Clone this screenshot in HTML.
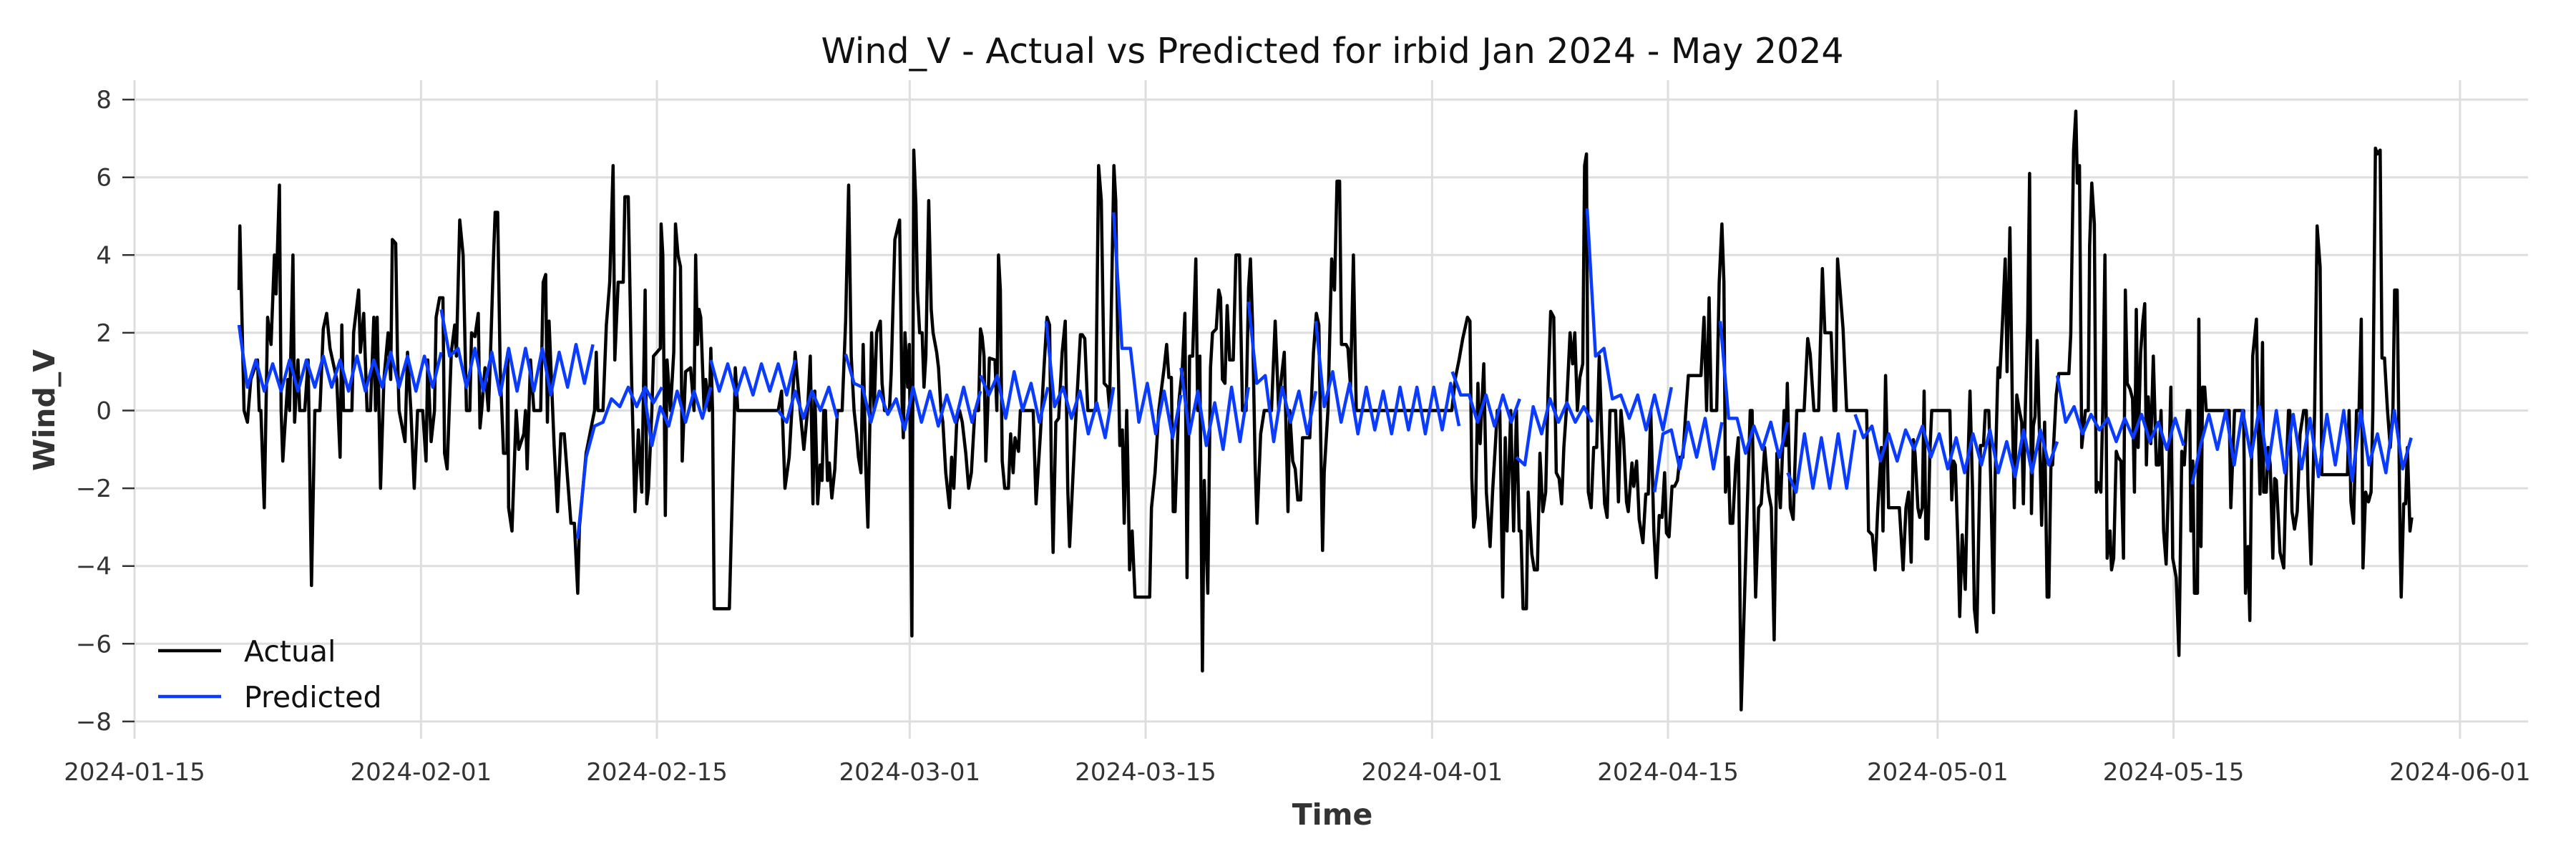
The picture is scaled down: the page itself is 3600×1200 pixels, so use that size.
<!DOCTYPE html>
<html><head><meta charset="utf-8"><style>
html,body{margin:0;padding:0;background:#fff;}
svg{display:block;}
text{font-family:"DejaVu Sans","Liberation Sans",sans-serif;}
</style></head><body>
<svg id="chart" width="3600" height="1200" viewBox="0 0 3600 1200" xmlns="http://www.w3.org/2000/svg">
<rect width="3600" height="1200" fill="#fff"/>
<text x="1862" y="88" font-size="49" text-anchor="middle" fill="#111">Wind_V - Actual vs Predicted for irbid Jan 2024 - May 2024</text>
<g id="grid"></g>
<g id="ticks"></g>
<g id="series"></g>
<text x="1862" y="1152" font-size="41" font-weight="bold" text-anchor="middle" fill="#333">Time</text>
<text transform="translate(76,573) rotate(-90)" font-size="41" font-weight="bold" text-anchor="middle" fill="#333">Wind_V</text>
<g>
<line x1="221" y1="909" x2="309" y2="909" stroke="#000" stroke-width="4.5"/>
<text x="341" y="924" font-size="41" fill="#111">Actual</text>
<line x1="221" y1="973" x2="309" y2="973" stroke="#0a3cff" stroke-width="4.5"/>
<text x="341" y="988" font-size="41" fill="#111">Predicted</text>
</g>
</svg>
<script>
// days since 2024-01-15
const xTickDays = [0, 17, 31, 46, 60, 77, 91, 107, 121, 138];
const xTickLabels = ["2024-01-15","2024-02-01","2024-02-15","2024-03-01","2024-03-15","2024-04-01","2024-04-15","2024-05-01","2024-05-15","2024-06-01"];
const yTicks = [-8,-6,-4,-2,0,2,4,6,8];
const yTickLabels = ["\u22128","\u22126","\u22124","\u22122","0","2","4","6","8"];

const actualDays = [
6.2,6.25,6.5,6.7,6.9,7.3,7.4,7.5,7.7,7.9,8.1,8.3,8.4,8.6,8.7,8.8,9.1,9.2,9.4,9.5,9.7,9.8,10.1,10.3,10.5,10.7,11.0,11.2,11.4,11.6,12.0,12.2,12.3,12.4,12.9,13.0,13.3,13.4,13.6,13.8,14.0,14.2,14.3,14.4,14.6,14.8,15.05,15.2,15.3,15.5,15.6,15.7,16.05,16.2,16.4,16.6,16.8,17.1,17.3,17.4,17.6,17.8,17.9,18.1,18.3,18.4,18.55,18.8,19.0,19.1,19.3,19.5,19.7,19.9,20.0,20.2,20.4,20.5,20.6,20.8,21.0,21.1,21.3,21.4,21.55,21.7,21.9,22.1,22.15,22.2,22.4,22.65,22.8,23.1,23.2,23.3,23.5,23.7,24.1,24.25,24.4,24.5,24.6,24.9,25.1,25.3,25.5,25.9,26.1,26.3,26.4,26.8,27.3,27.4,27.5,27.8,28.0,28.2,28.4,28.5,28.7,29.0,29.1,29.3,29.5,29.7,29.9,30.1,30.3,30.4,30.5,30.7,30.8,31.2,31.25,31.35,31.5,31.6,31.8,32.0,32.1,32.25,32.4,32.5,32.7,33.0,33.2,33.3,33.4,33.5,33.6,33.8,33.9,34.1,34.2,34.3,34.4,35.3,35.6,35.65,35.8,38.2,38.4,38.6,38.85,39.2,39.5,
39.72,39.94,40.1,40.26,40.37,40.54,40.69,40.8,40.9,41.0,41.12,41.23,41.38,41.56,41.71,41.99,42.2,42.38,42.53,42.7,42.85,42.96,43.11,43.24,43.39,43.52,43.74,43.89,44.04,44.26,44.36,44.51,44.8,44.9,45.12,45.4,45.55,45.62,45.72,45.88,45.98,46.13,46.24,46.37,46.46,46.59,46.74,46.85,46.96,47.13,47.28,47.39,47.6,47.71,47.86,47.97,48.14,48.36,48.49,48.62,48.79,48.96,49.12,49.33,49.5,49.66,49.87,50.09,50.2,50.3,50.41,50.52,50.63,50.73,51.06,51.17,51.27,51.38,51.49,51.64,51.86,51.99,52.14,52.25,52.46,52.57,53.33,53.5,53.76,53.97,54.15,54.3,54.41,54.51,54.67,54.84,55.05,55.23,55.38,55.49,55.81,56.13,56.24,56.39,56.57,57.04,57.21,57.37,57.54,57.75,57.86,58.12,58.23,58.34,58.47,58.62,58.73,58.88,58.94,59.05,59.2,59.37,60.24,60.35,60.56,60.78,61.1,61.25,61.38,61.53,61.64,61.75,61.97,62.18,62.33,62.46,62.61,62.79,62.98,63.09,63.22,63.37,63.48,63.69,63.85,63.97,64.19,64.34,64.45,64.56,64.71,64.84,64.99,65.2,65.36,65.57,65.75,65.96,66.11,66.22,66.35,66.5,66.61,66.83,67.04,67.47,67.69,67.9,68.06,68.23,68.45,68.55,68.73,68.88,69.03,69.2,69.31,69.74,69.96,70.13,70.28,70.5,70.6,70.82,71.04,71.21,71.36,71.51,71.62,71.9,72.01,72.16,72.33,72.5,
72.55,78.17,78.39,78.6,78.82,79.1,79.25,79.36,79.47,79.57,79.72,79.85,80.07,80.22,80.44,80.59,80.76,80.87,81.02,81.19,81.34,81.45,81.67,81.84,82.01,82.17,82.27,82.4,82.6,82.7,82.92,83.07,83.25,83.4,83.57,83.74,83.89,84.04,84.22,84.37,84.54,84.69,84.82,84.97,85.19,85.34,85.47,85.62,85.77,85.94,86.05,86.16,86.27,86.44,86.59,86.77,86.92,87.07,87.24,87.39,87.56,87.89,88.06,88.21,88.36,88.54,88.64,88.86,88.97,89.14,89.29,89.51,89.68,89.83,89.98,90.16,90.31,90.48,90.65,90.8,90.91,91.06,91.24,91.39,91.56,91.71,91.88,92.04,92.21,92.96,93.14,93.29,93.44,93.57,93.89,94.04,94.2,94.32,94.41,94.58,94.69,94.84,95.02,95.17,95.34,95.66,95.88,95.99,96.2,96.38,96.53,96.74,96.96,97.13,97.3,97.46,97.67,97.89,97.99,98.08,98.26,98.43,98.64,99.08,99.29,99.44,99.66,99.94,100.16,100.31,100.68,100.85,100.96,101.06,101.21,101.39,101.6,102.79,102.9,103.12,103.29,103.44,103.66,103.76,103.91,104.09,104.73,104.95,105.12,105.28,105.43,105.56,
105.66,105.83,105.94,106.09,106.2,106.3,106.43,106.54,106.65,107.73,107.84,107.95,108.05,108.21,108.31,108.46,108.64,108.81,108.92,109.07,109.18,109.33,109.44,109.54,109.72,109.83,110.04,110.15,110.32,110.41,110.58,110.69,110.86,111.01,111.12,111.29,111.45,111.55,111.7,111.83,111.99,112.09,112.2,112.35,112.46,112.57,112.68,112.78,112.91,113.07,113.17,113.35,113.5,113.6,113.73,113.82,114.04,114.19,114.79,114.9,115.07,115.2,115.29,115.42,115.55,115.77,115.94,116.02,116.15,116.3,116.41,116.52,116.69,116.8,116.93,117.06,117.23,117.32,117.45,117.6,117.71,117.88,118.03,118.14,118.25,118.42,118.57,118.68,118.79,118.9,119.05,119.18,119.29,119.39,119.5,119.65,119.8,119.98,120.13,120.26,120.41,120.56,120.69,120.84,120.95,121.16,121.32,121.49,121.64,121.81,121.96,122.03,122.14,122.24,122.42,122.5,122.63,122.72,122.85,122.94,124.3,124.4,124.62,125.16,125.27,125.42,125.53,125.7,125.92,126.02,126.13,126.28,126.35,126.5,126.61,126.74,126.89,127.0,127.1,127.32,127.54,127.65,127.82,127.9,128.03,128.18,128.34,128.51,128.72,128.88,128.98,129.16,129.37,129.52,129.7,129.8,131.32,131.42,131.53,131.68,131.86,132.01,132.14,132.24,132.4,132.57,132.72,132.83,132.98,133.09,133.26,133.37,133.52,133.69,133.86,134.02,134.12,134.27,134.45,134.51,134.66,134.77,134.88,135.03,135.14
];
const actualValues = [
3.1,4.75,0,-0.3,0.8,1.3,0,0,-2.5,2.4,1.7,4,3,5.8,0,-1.3,0.8,0,4,-0.3,1.3,0,0,1.3,-4.5,0,0,2.1,2.5,1.6,0.8,-1.2,2.2,0,0,2,3.1,1.5,2.5,0,0,2.4,0,2.4,-2,0.8,2,0.8,4.4,4.3,1.5,0,-0.8,1.5,0,-2,0,0,-1.3,1.3,-0.8,0,2.4,2.9,2.9,-1.1,-1.5,1.5,2.2,1.4,4.9,4,0,0,2,1.9,2.5,-0.45,0,1.1,0,1.1,3.9,5.1,5.1,1.1,-1.1,-1.1,1.5,-2.5,-3.1,0,-1,-0.6,0,-1.5,1.3,0,0,3.3,3.5,-0.3,2.3,-0.9,-2.6,-0.6,-0.6,-2.9,-2.9,-4.7,-3.0,-1.1,0,1.5,0,0,2.2,3.3,6.3,1.3,3.3,3.3,5.5,5.5,0.8,-2.6,-0.5,-2.1,3.1,-2.4,-2,0,1.4,1.6,4.8,4,-2.7,1.3,0,1.5,4.8,4,3.7,-1.3,1,1.1,0,4,1.7,2.6,2.4,0,0.8,0,1.6,0,-5.1,-5.1,0,1.1,0,0,0.5,-2,-1.2,1.5,0,
-1,0,1.4,-2.4,0.5,-2.4,-1.4,-1.8,0,0,-1.8,-1.35,-2.25,-1.5,0,0,2.3,5.8,1.4,0,-0.6,-1.2,-1.6,1.7,-1.4,-3,2,0,2,2.3,0.7,0,0,0.95,4.4,4.9,0.2,-0.7,2,0.6,1.7,-5.8,6.7,5.3,3.1,2,2,0.6,1.4,5.4,2.6,2,1.5,1.1,0,-0.3,-1.6,-2.5,-1.2,-2,-0.3,0,-0.3,-1.1,-2,-1.6,0,0,2.1,1.9,1.4,-1.3,0,1.35,1.3,0,4,3.1,-1.3,-2,-2,-0.6,-1.6,-0.7,-1.05,0,0,-2.4,-0.6,1.1,2.4,2.2,-1.6,-3.65,-0.3,-0.2,1.5,2.3,-2,-3.5,-0.6,1.95,1.95,1.85,0,0,6.3,5.4,0.7,0.6,0.05,6.3,5.4,2,-0.9,-0.5,-2.9,0,-1.2,-4.1,-3.1,-4.8,-4.8,-2.5,-1.6,0,1.1,1.7,0.85,0.85,-2.6,-2.6,0.2,1.1,2.5,-4.3,1.4,1.4,3.9,0,1.4,-6.7,-1.8,-4.7,1.1,2,2.1,3.1,2.9,0.8,0.7,2.7,1.3,1.3,4,4,0,0,3.15,3.9,2.2,-1.4,-2.9,-0.6,0,0,2.3,0,0.85,1.5,-2.6,0,-1.3,-1.5,-2.3,-2.3,-0.7,-0.7,1.5,2.5,2.2,-3.6,-1.6,0,3.9,3.1,5.9,5.9,1.7,1.7,1.6,0.6,4,0,
0,0,0.85,1.3,1.85,2.4,2.3,-1.75,-3,-2.75,0.7,-0.85,1.2,-2.1,-3.5,-2.1,-0.85,0,0,-4.8,-0.7,-3.1,0,-3.1,0,-3.1,-3.1,-5.1,-5.1,-2.1,-3.7,-4.1,-4.1,-1.1,-2.6,-2.1,0.6,2.55,2.4,-1.6,-1.75,-2.4,-0.95,0,2,1.2,2,0,0.85,1.2,6.3,6.6,-2.1,-2.5,-0.95,-0.95,1.4,-0.6,-2.4,-2.75,0,0,-2.35,0,-0.7,-2.35,-2.6,-1.35,-1.95,-1.3,-2.8,-3.4,-2.15,-2.15,0,-3.1,-4.3,-2.7,-2.75,-1.6,-3.15,-3.25,-1.95,-1.95,-1.8,-1.2,-1.2,-0.15,0.9,0.9,2.4,0,2.9,0,0,3.3,4.8,3.3,-2.1,-1.2,-2.9,-2.9,-1.4,-0.7,-7.7,-3.1,0,0,-4.8,-2.5,-2.4,-0.95,-2.1,-2.5,-5.9,-1.1,-2.5,0,-0.9,0.7,-2.5,-2.8,0,0,1.85,1.45,0,0,3.65,2,2,0,0,3.9,3.1,2.1,0,0,-3.1,-3.2,-4.1,-2.6,-0.95,-3.1,0.9,-2.5,-2.5,-4.1,-2.5,-2.1,-3.9,-0.75,
-1.1,-2.5,-2.75,-2.5,0.5,-3.3,-3.3,-1.1,0,0,-2.3,-1.3,-1.4,-3.45,-5.3,-3.2,-4.6,-1.2,0.5,-2,-5.1,-5.7,-3.1,-0.9,-0.9,0,0,-1.75,-5.2,-1.75,1.1,0.85,2.4,3.9,1,4.7,-0.3,-2.5,0.4,0.05,-0.3,-2.4,-0.05,2.3,6.1,-2.65,-0.4,-0.15,1.8,-1.05,-2.95,-0.3,-4.8,-4.8,-1.3,-1.4,0.4,0.95,0.95,1.95,6.7,7.7,5.85,6.3,-0.95,0,0,4.25,5.85,4.8,-2.1,-1.85,-2.1,0,4,-3.8,-3.1,-4.1,-3.8,-1.05,-1.2,-1.3,-3.8,3.1,0.7,0.55,0.3,-2.1,2.6,-0.95,1.5,2.3,2.75,-1.4,0.35,-0.85,1.4,-1.4,-1.4,0,-3.1,-3.95,-2.1,0.6,-3.8,-4.3,-6.3,-1.05,-1.4,0,0,-3.1,-1.3,-4.7,-4.7,2.35,-3.5,0.6,0.6,0,0,-2.5,0,0,-4.7,-3.5,-5.4,1.4,2.35,-0.3,-2.15,1.75,-2.1,-2.1,-0.95,-1.4,-3.8,-1.75,-1.8,-3.65,-4.05,-2.1,0,0,-2.6,-3.05,-2.6,-0.6,0,0,-1.95,-3.95,-0.05,4.75,3.7,-1.65,-1.65,0,-2.35,-2.9,0,0,2.35,-4.05,-2.1,-2.35,-2.1,0,6.75,6.6,6.7,1.35,1.35,0.05,-0.95,0.05,3.1,3.1,-3.5,-4.8,-2.4,-2.4,-0.95,-3.1,-2.75
];

// predicted forecast chunks: start day, values at half-day steps
const predStartDays = [6.2,18.2,26.3,30.2,34.2,38.2,42.2,50.2,54.1,58.1,62.1,66.1,70.1,78.2,82.0,86.2,90.2,94.1,98.1,102.1,114.1,122.1];
const predChunk1 = [2.2,0.6,1.3,0.5,1.2,0.5,1.3,0.5,1.3,0.6,1.4,0.6,1.3,0.5,1.4,0.5,1.3,0.6,1.5,0.6,1.4,0.5,1.4,0.6,1.5];
const predChunk2 = [2.6,1.4,1.6,0.6,1.6,0.5,1.5,0.4,1.6,0.5,1.6,0.5,1.6,0.4,1.5,0.6,1.7,0.7,1.7];
const predChunk3 = [-3.3,-1.2,-0.4,-0.3,0.3,0.1,0.6,0.1,0.6,0.2,0.6];
const predChunk4 = [0.6,-0.9,0.1,-0.4,0.5,-0.3,0.5,-0.2,0.6];
const predChunk5 = [1.3,0.5,1.2,0.4,1.1,0.4,1.2,0.5,1.2,0.4,1.3];
const predChunk6 = [0,-0.3,0.5,-0.2,0.5,0.0,0.6,-0.2];
const predChunk7 = [1.45,0.7,0.6,-0.3,0.5,-0.1,0.3,-0.5,0.6,-0.3,0.5,-0.4,0.4,-0.3,0.6,-0.3,0.5];
const predChunk8 = [0.9,0.4,0.9,-0.2,1.0,0.0,0.7,-0.3,0.6];
const predChunk9 = [2.3,0.1,0.6,-0.2,0.5,-0.6,0.2,-0.7,0.6];
const predChunk10 = [5.1,1.6,1.6,-0.3,0.7,-0.6,0.5,-0.7,0.4];
const predChunk11 = [1.1,-0.6,0.5,-0.9,0.2,-1.0,0.6,-0.8,0.6];
const predChunk12 = [2.8,0.7,0.9,-0.8,0.6,-0.3,0.5,-0.6,0.5];
const predChunk13 = [2.3,0.1,1.0,-0.3,0.7,-0.6,0.6,-0.5,0.5,-0.6,0.6,-0.5,0.6,-0.6,0.6,-0.5,0.7,-0.4];
const predChunk14 = [1.0,0.4,0.4,-0.3,0.4,-0.4,0.4,-0.3,0.3];
const predChunk15 = [-1.2,-1.4,0.1,-0.6,0.3,-0.3,0.2,-0.3,0.1,-0.3];
const predChunk16 = [5.2,1.4,1.6,0.3,0.4,-0.2,0.4,-0.5,0.4,-0.5,0.6];
const predChunk17 = [-2.1,-0.6,-0.5,-1.5,-0.3,-1.2,-0.2,-1.5,-0.3];
const predChunk18 = [2.3,-0.2,-0.2,-1.1,-0.4,-1.0,-0.3,-1.2,-0.3];
const predChunk19 = [-1.6,-2.1,-0.6,-2.0,-0.7,-2.0,-0.6,-2.0,-0.5];
const predChunk20 = [-0.1,-0.7,-0.4,-1.3,-0.6,-1.3,-0.5,-1.0,-0.4,-1.2,-0.6,-1.5,-0.7,-1.6,-0.6,-1.4,-0.5,-1.6,-0.8,-1.7,-0.5,-1.6,-0.5,-1.4,-0.8];
const predChunk21 = [0.9,-0.3,0.1,-0.6,-0.1,-0.5,-0.2,-0.8,-0.2,-0.7,-0.1,-0.8,-0.3,-1.0,-0.2,-0.9];
const predChunk22 = [-1.9,-0.9,-0.1,-1.0,0.0,-1.4,0.0,-1.2,0.1,-1.5,0.0,-1.6,-0.1,-1.5,-0.2,-1.7,-0.1,-1.4,0.0,-1.8,0.0,-1.4,-0.6,-1.6,0.0,-1.5,-0.7];
const predChunks = [predChunk1,predChunk2,predChunk3,predChunk4,predChunk5,predChunk6,predChunk7,predChunk8,predChunk9,predChunk10,predChunk11,predChunk12,predChunk13,predChunk14,predChunk15,predChunk16,predChunk17,predChunk18,predChunk19,predChunk20,predChunk21,predChunk22];
const predStep = 0.5;

const NS = "http://www.w3.org/2000/svg";
const X0 = 188, X1 = 3533, Y0 = 112, Y1 = 1032;
const PX_PER_DAY = 23.55;
function xScale(d){ return X0 + d * PX_PER_DAY; }
function yScale(v){ return 573.5 - v * 54.3; }
function mk(tag, attrs, parent){ const e = document.createElementNS(NS, tag); for (const k in attrs) e.setAttribute(k, attrs[k]); parent.appendChild(e); return e; }

const grid = document.getElementById('grid');
const ticks = document.getElementById('ticks');
yTicks.forEach((v, i) => {
  const y = yScale(v);
  const gl = mk('line', {x1: X0, x2: X1, y1: y, y2: y, stroke: '#dedede', 'stroke-width': 3}, grid);
  
  
  const tm = mk('line', {x1: 171, x2: 188, y1: y, y2: y, stroke: '#333', 'stroke-width': 2.5}, ticks);
  
  
  const t = mk('text', {x: 156, y: y + 12, 'font-size': 34, 'text-anchor': 'end', fill: '#333'}, ticks);
  t.textContent = yTickLabels[i];
  
  
});
xTickDays.forEach((d, i) => {
  const x = xScale(d);
  const gl = mk('line', {x1: x, x2: x, y1: Y0, y2: Y1, stroke: '#dedede', 'stroke-width': 3}, grid);
  
  
  const t = mk('text', {x: x, y: 1090, 'font-size': 34, 'text-anchor': 'middle', fill: '#333'}, ticks);
  t.textContent = xTickLabels[i];
  
  
});

const series = document.getElementById('series');
let pts = actualDays.map((d, i) => xScale(d).toFixed(1) + ',' + yScale(actualValues[i]).toFixed(1)).join(' ');
const actualLine = mk('polyline', {points: pts, fill: 'none', stroke: '#000', 'stroke-width': 4.5, 'stroke-linejoin': 'round'}, series);



predChunks.forEach((vals, ci) => {
  const p = vals.map((v, j) => xScale(predStartDays[ci] + j * predStep).toFixed(1) + ',' + yScale(v).toFixed(1)).join(' ');
  const pl = mk('polyline', {points: p, fill: 'none', stroke: '#0a3cff', 'stroke-width': 4.5, 'stroke-linejoin': 'round'}, series);
  
  
});
</script>
</body></html>
